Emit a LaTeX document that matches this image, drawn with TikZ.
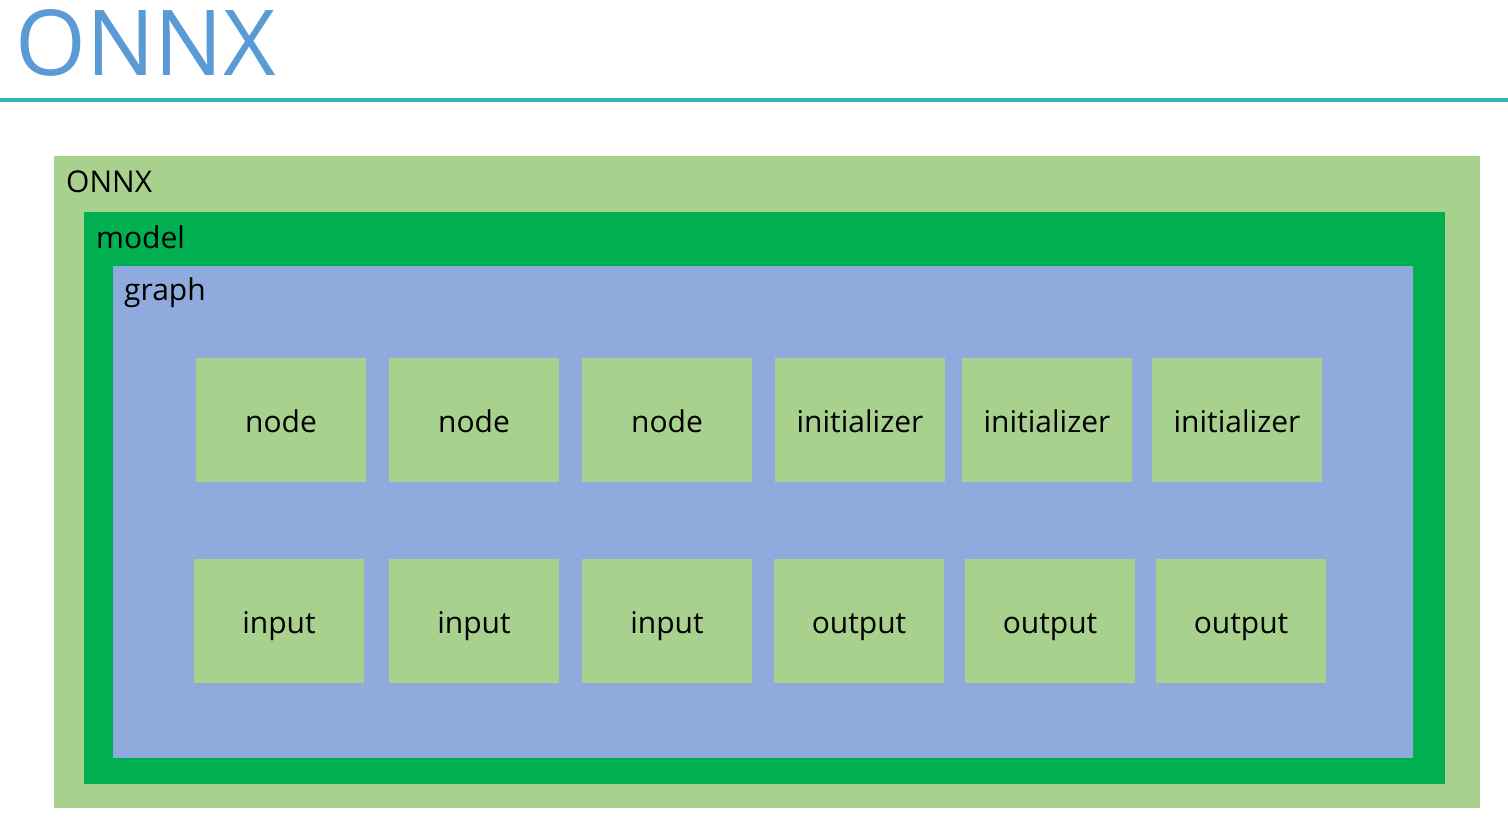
\documentclass[tikz,border=0pt]{standalone}
\usepackage{fontspec}
\setmainfont{Open Sans}
\usepackage{tikz}
\usetikzlibrary{positioning}
\definecolor{TitleBlue}{HTML}{5B9BD5}
\definecolor{RuleTeal}{HTML}{2FB5B7}
\definecolor{LiteGreen}{HTML}{A9D18E}
\definecolor{DeepGreen}{HTML}{00B050}
\definecolor{SoftBlue}{HTML}{8FAADC}
\tikzset{%
  layer/.style={%
    rectangle,%
    inner sep=0pt,%
    outer sep=0pt,%
    anchor=north west,%
  },
  layer_label/.style={%
    inner sep=0pt,%
    anchor=base west,%
    font={\fontsize{30}{36}\selectfont},%
  },
  part_block/.style={%
    rectangle,%
    fill=LiteGreen,%
    inner sep=0pt,%
    outer sep=0pt,%
    minimum width=170pt,%
    minimum height=124pt,%
    text height=24pt,%
    text depth=0pt,%
    font={\fontsize{30}{36}\selectfont},%
    align=center%
  },
}
\begin{document}
\begin{tikzpicture}[x=1pt, y=-1pt]
    \useasboundingbox (0,0) rectangle (1508,836);

    \node [inner sep=0pt, anchor=base west, text=TitleBlue,
      font={\fontsize{91}{100}\selectfont}] (title) at (15,75) {ONNX};
    \coordinate (rule_l) at (0,100);
    \coordinate (rule_r) at (1508,100);
    \draw [RuleTeal, line width=4.5pt] (rule_l) -- (rule_r);

    \node [layer, fill=LiteGreen, minimum width=1426pt, minimum height=652pt]
      (onnx) at (54,156) {};
    \node [layer, fill=DeepGreen, minimum width=1361pt, minimum height=572pt]
      (model) at (84,212) {};
    \node [layer, fill=SoftBlue, minimum width=1300pt, minimum height=492pt]
      (graph) at (113,266) {};
    \node [layer_label] (onnx_label) at (66,192) {ONNX};
    \node [layer_label] (model_label) at (96,248) {model};
    \node [layer_label] (graph_label) at (124,300) {graph};

    \node [part_block] (node1) at (281,420) {node};
    \node [part_block, right = 23pt of node1] (node2) {node};
    \node [part_block, right = 23pt of node2] (node3) {node};
    \node [part_block, right = 23pt of node3] (init1) {initializer};
    \node [part_block, right = 17pt of init1] (init2) {initializer};
    \node [part_block, right = 20pt of init2] (init3) {initializer};

    \node [part_block] (input1) at (279,621) {input};
    \node [part_block, right = 25pt of input1] (input2) {input};
    \node [part_block, right = 23pt of input2] (input3) {input};
    \node [part_block, right = 22pt of input3] (output1) {output};
    \node [part_block, right = 21pt of output1] (output2) {output};
    \node [part_block, right = 21pt of output2] (output3) {output};
\end{tikzpicture}
\end{document}
